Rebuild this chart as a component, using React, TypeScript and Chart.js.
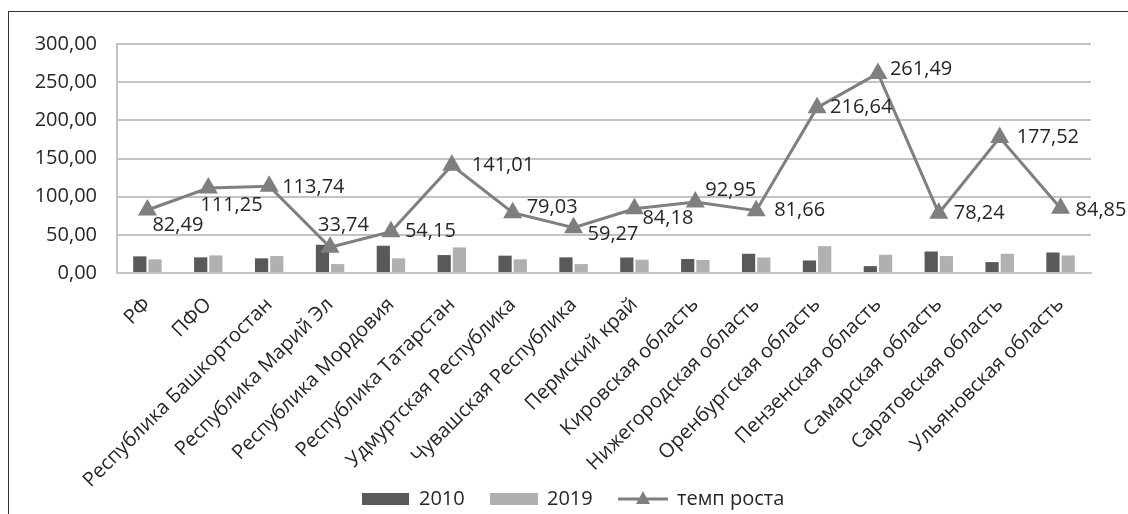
import React, { useEffect, useRef } from "react";
import { Chart, registerables } from "chart.js";

Chart.register(...registerables);

const categories = [
  "РФ",
  "ПФО",
  "Республика Башкортостан",
  "Республика Марий Эл",
  "Республика Мордовия",
  "Республика Татарстан",
  "Удмуртская Республика",
  "Чувашская Республика",
  "Пермский край",
  "Кировская область",
  "Нижегородская область",
  "Оренбургская область",
  "Пензенская область",
  "Самарская область",
  "Саратовская область",
  "Ульяновская область",
];

const values2010 = [21.8, 20.5, 19.2, 37.0, 35.7, 23.5, 22.7, 20.5, 20.3, 18.3, 25.2, 16.4, 9.0, 28.2, 14.3, 26.9];
const values2019 = [17.9, 23.0, 22.2, 11.7, 19.2, 33.5, 17.9, 11.7, 17.4, 17.0, 20.3, 35.2, 23.9, 22.2, 25.2, 23.0];
const growthRate = [82.49, 111.25, 113.74, 33.74, 54.15, 141.01, 79.03, 59.27, 84.18, 92.95, 81.66, 216.64, 261.49, 78.24, 177.52, 84.85];

const seriesNames = ["2010", "2019", "темп роста"];
const yTicks = [0, 50, 100, 150, 200, 250, 300];

// label placement offsets (style only) relative to each point: [dx, dy]
const labelOffsets: [number, number][] = [
  [5, 15], [-8, 17], [13, 1], [-12, -22], [14, 0], [20, 0], [14, -5], [14, 7],
  [8, 10], [10, -12], [18, 0], [13, 0], [12, -4], [15, 0], [17, 0], [15, 2],
];

const FONT = "'Open Sans', 'Noto Sans', sans-serif";
const TEXT = "#262626";
const DARK = "#595959";
const LIGHT = "#b0b0b0";
const LINE = "#7f7f7f";
const GRID = "#c3c3c3";

const fmt = (v: number) => v.toFixed(2).replace(".", ",");

const labelPlugin = {
  id: "lineLabels",
  afterDatasetsDraw(chart: any) {
    const ctx = chart.ctx;
    const meta = chart.getDatasetMeta(2);
    ctx.save();
    ctx.font = `20px ${FONT}`;
    ctx.fillStyle = TEXT;
    ctx.textAlign = "left";
    ctx.textBaseline = "middle";
    meta.data.forEach((pt: any, i: number) => {
      const [dx, dy] = labelOffsets[i] || [13, 0];
      ctx.fillText(fmt(growthRate[i]), pt.x + dx, pt.y + dy);
    });
    ctx.restore();
  },
};

const legendPlugin = {
  id: "customLegend",
  afterDraw(chart: any) {
    const ctx = chart.ctx;
    const y = 499;
    ctx.save();
    ctx.font = `20px ${FONT}`;
    ctx.fillStyle = TEXT;
    ctx.textBaseline = "middle";
    ctx.textAlign = "left";
    // 2010
    ctx.fillStyle = DARK;
    ctx.fillRect(362, y - 6, 47, 12);
    ctx.fillStyle = TEXT;
    ctx.fillText(seriesNames[0], 419, y);
    // 2019
    ctx.fillStyle = LIGHT;
    ctx.fillRect(490, y - 6, 48, 12);
    ctx.fillStyle = TEXT;
    ctx.fillText(seriesNames[1], 547, y);
    // line
    ctx.strokeStyle = LINE;
    ctx.lineWidth = 3;
    ctx.beginPath();
    ctx.moveTo(618, y);
    ctx.lineTo(668, y);
    ctx.stroke();
    ctx.fillStyle = LINE;
    ctx.beginPath();
    ctx.moveTo(643, y - 8);
    ctx.lineTo(650, y + 5);
    ctx.lineTo(636, y + 5);
    ctx.closePath();
    ctx.fill();
    ctx.fillStyle = TEXT;
    ctx.fillText(seriesNames[2], 677, y);
    ctx.restore();
  },
};

export default function App() {
  const ref = useRef<HTMLCanvasElement | null>(null);

  useEffect(() => {
    if (!ref.current) return;
    const chart = new Chart(ref.current, {
      type: "bar",
      data: {
        labels: categories,
        datasets: [
          {
            type: "bar",
            label: seriesNames[0],
            data: values2010,
            backgroundColor: DARK,
            categoryPercentage: 0.5,
            barPercentage: 0.87,
            order: 2,
          },
          {
            type: "bar",
            label: seriesNames[1],
            data: values2019,
            backgroundColor: LIGHT,
            categoryPercentage: 0.5,
            barPercentage: 0.87,
            order: 2,
          },
          {
            type: "line",
            label: seriesNames[2],
            data: growthRate,
            borderColor: LINE,
            backgroundColor: LINE,
            borderWidth: 3,
            pointStyle: "triangle",
            pointRadius: 8,
            pointBackgroundColor: LINE,
            pointBorderColor: LINE,
            tension: 0,
            order: 0,
          } as any,
        ],
      },
      options: {
        responsive: false,
        animation: false,
        layout: { padding: { top: 44, right: 37, left: 0, bottom: 0 } },
        plugins: {
          legend: { display: false },
          tooltip: { enabled: false },
        },
        scales: {
          x: {
            grid: { display: false, drawTicks: false },
            border: { display: true, color: GRID, width: 2 },
            ticks: {
              autoSkip: false,
              maxRotation: 45,
              minRotation: 45,
              padding: 20,
              color: TEXT,
              font: { family: FONT, size: 20 },
            },
            afterFit(scale: any) {
              scale.height = 241;
            },
          },
          y: {
            min: 0,
            max: 300,
            afterBuildTicks(scale: any) {
              scale.ticks = yTicks.map((v) => ({ value: v }));
            },
            grid: { color: GRID, lineWidth: 2, drawTicks: false },
            border: { display: true, color: GRID, width: 2 },
            ticks: {
              padding: 20,
              color: TEXT,
              font: { family: FONT, size: 20 },
              callback: (v: any) => fmt(Number(v)),
            },
            afterFit(scale: any) {
              scale.width = 117;
            },
          },
        },
      },
      plugins: [labelPlugin, legendPlugin],
    });
    return () => chart.destroy();
  }, []);

  return (
    <div
      style={{
        position: "fixed",
        left: 0,
        top: 0,
        width: 1128,
        height: 514,
        overflow: "hidden",
        background: "#fff",
      }}
    >
      <div
        style={{
          position: "absolute",
          left: 8,
          top: 11,
          width: 2000,
          height: 2000,
          borderLeft: "1px solid #333",
          borderTop: "1px solid #333",
        }}
      />
      <canvas
        ref={ref}
        width={1128}
        height={514}
        style={{ position: "absolute", left: 0, top: 0, width: 1128, height: 514 }}
      />
    </div>
  );
}
